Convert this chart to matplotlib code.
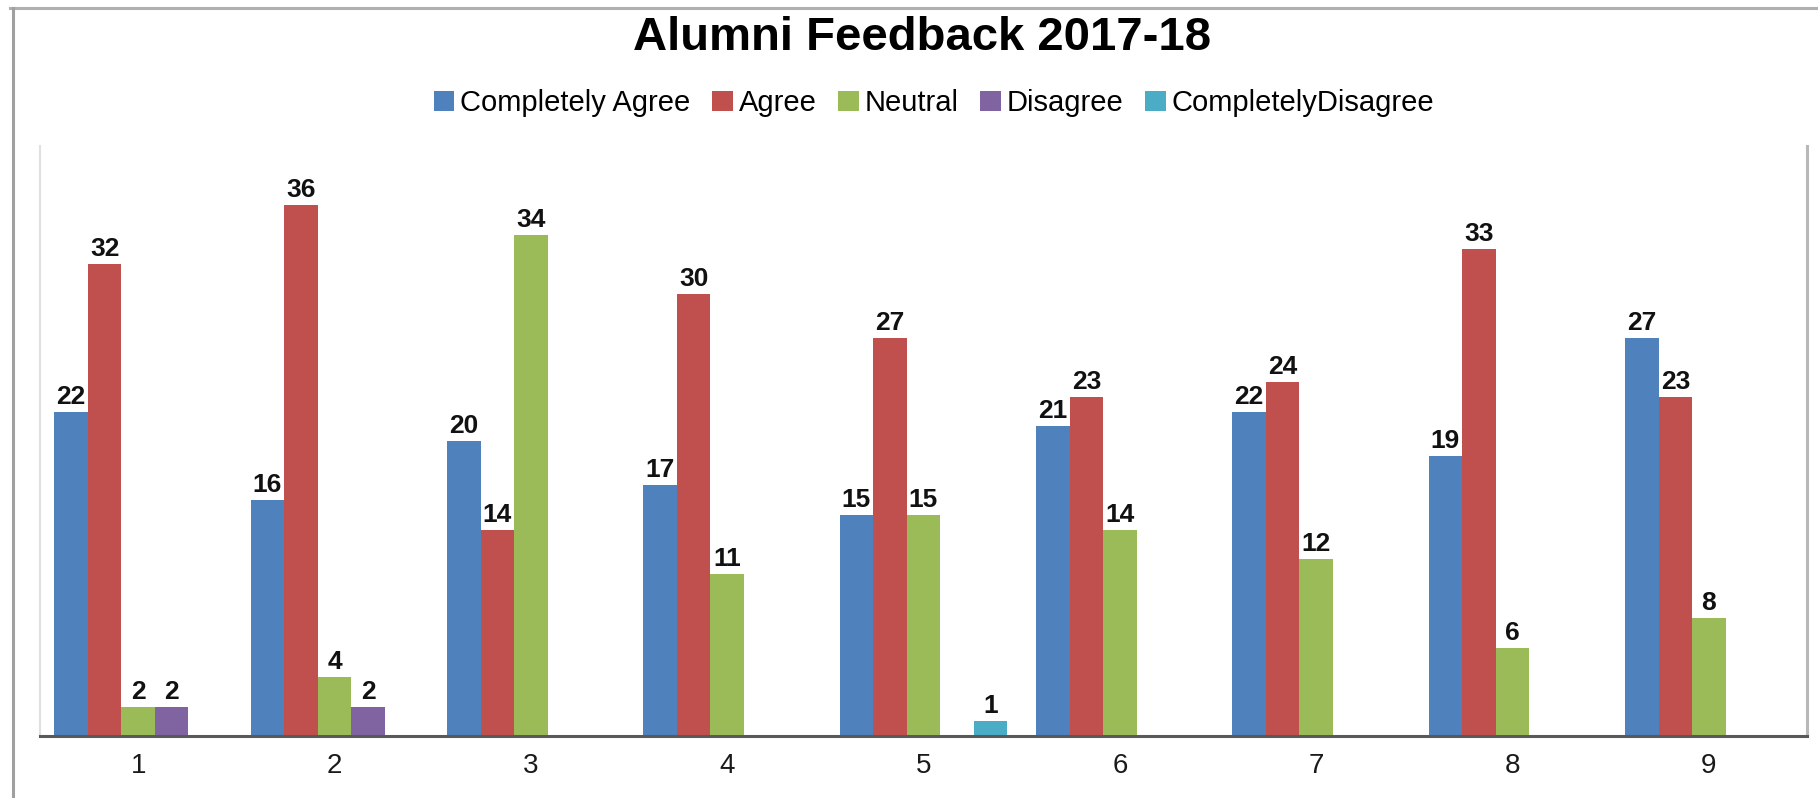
import matplotlib

matplotlib.use("Agg")
import numpy as np
from matplotlib import pyplot as plt
from matplotlib.lines import Line2D
from matplotlib.patches import Patch

plt.rcParams["font.family"] = ["Liberation Sans", "DejaVu Sans"]

categories = ["1", "2", "3", "4", "5", "6", "7", "8", "9"]
series_names = ["Completely Agree", "Agree", "Neutral", "Disagree", "CompletelyDisagree"]
completely_agree = [22, 16, 20, 17, 15, 21, 22, 19, 27]
agree = [32, 36, 14, 30, 27, 23, 24, 33, 23]
neutral = [2, 4, 34, 11, 15, 14, 12, 6, 8]
disagree = [2, 2, 0, 0, 0, 0, 0, 0, 0]
completely_disagree = [0, 0, 0, 0, 1, 0, 0, 0, 0]
colors = ["#4F81BD", "#C0504D", "#9BBB59", "#8064A2", "#4BACC6"]

W, H = 1818, 798
figure = plt.figure(figsize=(W / 100, H / 100), dpi=100)
axis = figure.add_axes([40 / W, 1 - 736 / H, (1807 - 40) / W, (736 - 146) / H])

x = np.arange(len(categories))
bar_width = 0.1707
all_series = [completely_agree, agree, neutral, disagree, completely_disagree]
for i, (name, values, color) in enumerate(zip(series_names, all_series, colors)):
    bars = axis.bar(x + (i - 2) * bar_width, values, bar_width, color=color, label=name, zorder=2)
    labels = [str(v) if v else "" for v in values]
    axis.bar_label(bars, labels=labels, padding=2, fontsize=19, fontweight="bold", color="#111111")

axis.set_xlim(-0.5, len(categories) - 0.5)
axis.set_ylim(0, 40)
axis.set_xticks(x)
axis.set_xticklabels(categories, fontsize=20, color="#1a1a1a")
axis.tick_params(axis="x", length=0, pad=12)
axis.set_yticks([])
axis.spines["top"].set_visible(False)
axis.spines["bottom"].set_color("#595959")
axis.spines["bottom"].set_linewidth(2.2)
axis.spines["left"].set_color("#e0e0e0")
axis.spines["left"].set_linewidth(1.5)
axis.spines["right"].set_color("#b8b8b8")
axis.spines["right"].set_linewidth(2.2)

# outer chart border (top and left only visible)
figure.add_artist(Line2D([10 / W, 1], [1 - 8 / H, 1 - 8 / H], color="#b0b0b0", linewidth=2.2))
figure.add_artist(Line2D([13 / W, 13 / W], [0, 1 - 8 / H], color="#a0a0a0", linewidth=2.2))

figure.text(922 / W, 1 - 50 / H, "Alumni Feedback 2017-18", fontsize=34, fontweight="bold",
            ha="center", va="baseline")

handles = [Patch(facecolor=c, label=n) for c, n in zip(colors, series_names)]
figure.legend(
    handles=handles,
    loc="center",
    bbox_to_anchor=(934 / W, 1 - 103 / H),
    ncol=5,
    frameon=False,
    fontsize=21,
    handlelength=0.7,
    handleheight=0.7,
    handletextpad=0.2,
    columnspacing=0.75,
    borderpad=0,
)

figure.savefig("out.png", dpi=100)
plt.close(figure)
